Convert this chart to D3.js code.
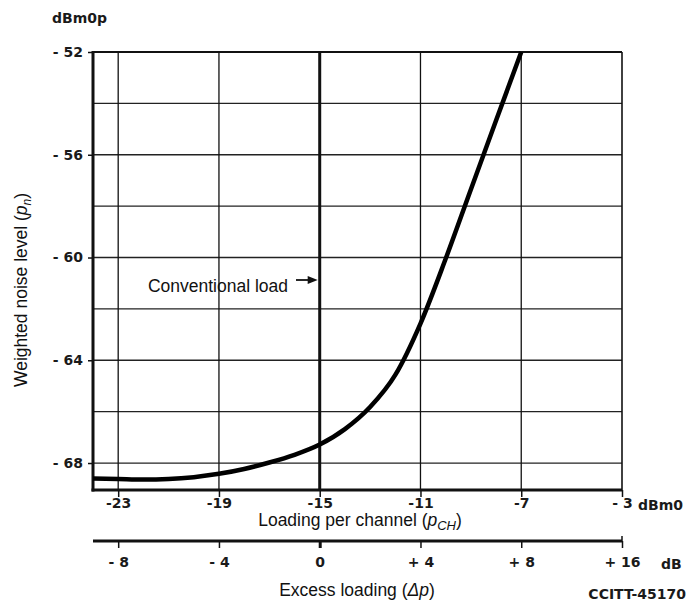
<!DOCTYPE html>
<html>
<head>
<meta charset="utf-8">
<script src="https://cdn.jsdelivr.net/npm/d3@7"></script>
<style>
  html, body { margin: 0; padding: 0; background: #fff; }
  svg { display: block; }
  .tick-lbl { font-family: "DejaVu Sans", sans-serif; font-weight: bold; font-size: 14px; fill: #1a1a1a; }
  .title { font-family: "Liberation Sans", Arial, sans-serif; font-size: 17.5px; fill: #111; }
</style>
</head>
<body>
<script>
// ---- Data ----
const pCH = [-24, -23, -22, -21, -20, -19, -18, -17, -16, -15, -14, -13, -12, -11, -10, -9, -8, -7];
const pn  = [-68.6, -68.62, -68.64, -68.62, -68.55, -68.42, -68.23, -67.98, -67.68, -67.28, -66.68, -65.82, -64.57, -62.57, -60.05, -57.35, -54.67, -52.0];

const xTicks = [-23, -19, -15, -11, -7, -3];
const xTickLabels = ["-23", "-19", "-15", "-11", "-7", "- 3"];
const excessTickLabels = ["- 8", "- 4", "0", "+ 4", "+ 8", "+ 16"];
const yTicks = [-52, -56, -60, -64, -68];
const yTickLabels = ["- 52", "- 56", "- 60", "- 64", "- 68"];
const yGrid = [-54, -56, -58, -60, -62, -64, -66, -68];
const conventionalLoad = -15;

const W = 688, H = 604;
const svg = d3.select("body").append("svg").attr("width", W).attr("height", H);

const x = d3.scaleLinear().domain([-24, -3]).range([93, 622]);
const y = d3.scaleLinear().domain([-52, -69.05]).range([52, 490]);
const [x0, x1] = x.range();
const [yTop, yBot] = y.range();

// grid: horizontal
svg.append("g").selectAll("line").data(yGrid).join("line")
  .attr("x1", x0).attr("x2", x1)
  .attr("y1", d => y(d)).attr("y2", d => y(d))
  .attr("stroke", "#222").attr("stroke-width", 1.3);

// grid: vertical
svg.append("g").selectAll("line").data(xTicks.filter(d => d !== -3)).join("line")
  .attr("x1", d => x(d)).attr("x2", d => x(d))
  .attr("y1", yTop).attr("y2", yBot)
  .attr("stroke", "#111")
  .attr("stroke-width", d => d === conventionalLoad ? 3 : 1.3);

// frame
svg.append("line").attr("x1", x0).attr("x2", x1).attr("y1", yTop).attr("y2", yTop).attr("stroke", "#111").attr("stroke-width", 1.8);
svg.append("line").attr("x1", x1).attr("x2", x1).attr("y1", yTop).attr("y2", yBot).attr("stroke", "#111").attr("stroke-width", 1.6);

// bottom axis (pCH)
const xAxis = d3.axisBottom(x).tickValues(xTicks)
  .tickFormat((d, i) => xTickLabels[i]).tickSize(7).tickPadding(1);
const gx = svg.append("g").attr("transform", `translate(0,${yBot})`).call(xAxis);
gx.select(".domain").remove();
gx.selectAll(".tick line").attr("stroke", "#111").attr("stroke-width", 1.5);
gx.selectAll(".tick text").attr("class", "tick-lbl").attr("font-family", null).attr("font-size", null);

// left axis
const yAxis = d3.axisLeft(y).tickValues(yTicks)
  .tickFormat((d, i) => yTickLabels[i]).tickSize(5).tickPadding(5);
const gy = svg.append("g").attr("transform", `translate(${x0},0)`).call(yAxis);
gy.select(".domain").remove();
gy.selectAll(".tick line").attr("stroke", "#111").attr("stroke-width", 1.5);
gy.selectAll(".tick text").attr("class", "tick-lbl").attr("font-family", null).attr("font-size", null);

svg.append("line").attr("x1", x0).attr("x2", x0).attr("y1", yTop - 1).attr("y2", yBot + 1.5).attr("stroke", "#111").attr("stroke-width", 3);
svg.append("line").attr("x1", x0 - 1.5).attr("x2", x1).attr("y1", yBot).attr("y2", yBot).attr("stroke", "#111").attr("stroke-width", 3);

// curve
const line = d3.line().x(d => x(d[0])).y(d => y(d[1])).curve(d3.curveMonotoneX);
svg.append("path").datum(pCH.map((v, i) => [v, pn[i]]))
  .attr("d", line).attr("fill", "none").attr("stroke", "#000")
  .attr("stroke-width", 4.5).attr("stroke-linecap", "butt");

// second axis: excess loading
const axY2 = 541;
const xAxis2 = d3.axisBottom(x).tickValues(xTicks)
  .tickFormat((d, i) => excessTickLabels[i]).tickSize(7).tickPadding(9);
const gx2 = svg.append("g").attr("transform", `translate(0,${axY2})`).call(xAxis2);
gx2.select(".domain").remove();
gx2.selectAll(".tick line").attr("stroke", "#111").attr("stroke-width", d => d === conventionalLoad ? 3 : 1.5);
gx2.selectAll(".tick text").attr("class", "tick-lbl").attr("font-family", null).attr("font-size", null);
svg.append("line").attr("x1", x0).attr("x2", x1).attr("y1", axY2).attr("y2", axY2).attr("stroke", "#111").attr("stroke-width", 3);
svg.append("line").attr("x1", x1).attr("x2", x1).attr("y1", axY2 - 5).attr("y2", axY2).attr("stroke", "#111").attr("stroke-width", 1.5);

// units
svg.append("text").attr("class", "tick-lbl").attr("x", 638).attr("y", 510).text("dBm0");
svg.append("text").attr("class", "tick-lbl").attr("x", 661).attr("y", 569).text("dB");
svg.append("text").attr("class", "tick-lbl").attr("x", 52).attr("y", 23).text("dBm0p");

// titles
const t1 = svg.append("text").attr("class", "title").attr("x", 360).attr("y", 526).attr("text-anchor", "middle");
t1.append("tspan").text("Loading per channel (");
t1.append("tspan").attr("font-style", "italic").text("p");
t1.append("tspan").attr("font-style", "italic").attr("font-size", "13px").attr("dy", 4).text("CH");
t1.append("tspan").attr("dy", -4).text(")");

const t2 = svg.append("text").attr("class", "title").attr("x", 357).attr("y", 596).attr("text-anchor", "middle").attr("font-size", "18px");
t2.append("tspan").text("Excess loading (");
t2.append("tspan").attr("font-style", "italic").text("Δp");
t2.append("tspan").text(")");

const t3 = svg.append("text").attr("class", "title").attr("font-size", "18px")
  .attr("transform", `translate(27,290) rotate(-90)`).attr("text-anchor", "middle");
t3.append("tspan").text("Weighted noise level (");
t3.append("tspan").attr("font-style", "italic").text("p");
t3.append("tspan").attr("font-style", "italic").attr("font-size", "12px").attr("dy", 4).text("n");
t3.append("tspan").attr("dy", -4).text(")");

svg.append("text").attr("class", "tick-lbl").attr("x", 686).attr("y", 599).attr("text-anchor", "end")
  .attr("font-size", "14px").style("font-weight", "600")
  .text("CCITT-45170");

// annotation
svg.append("text").attr("class", "title").attr("x", 288).attr("y", 292).attr("text-anchor", "end").attr("font-size", "18.5px").text("Conventional load");
const ay = 280;
svg.append("line").attr("x1", 296).attr("x2", x(conventionalLoad) - 9).attr("y1", ay).attr("y2", ay).attr("stroke", "#111").attr("stroke-width", 1.8);
svg.append("path").attr("d", `M${x(conventionalLoad) - 2},${ay} L${x(conventionalLoad) - 12},${ay - 4} L${x(conventionalLoad) - 12},${ay + 4} Z`).attr("fill", "#111");
</script>
</body>
</html>
